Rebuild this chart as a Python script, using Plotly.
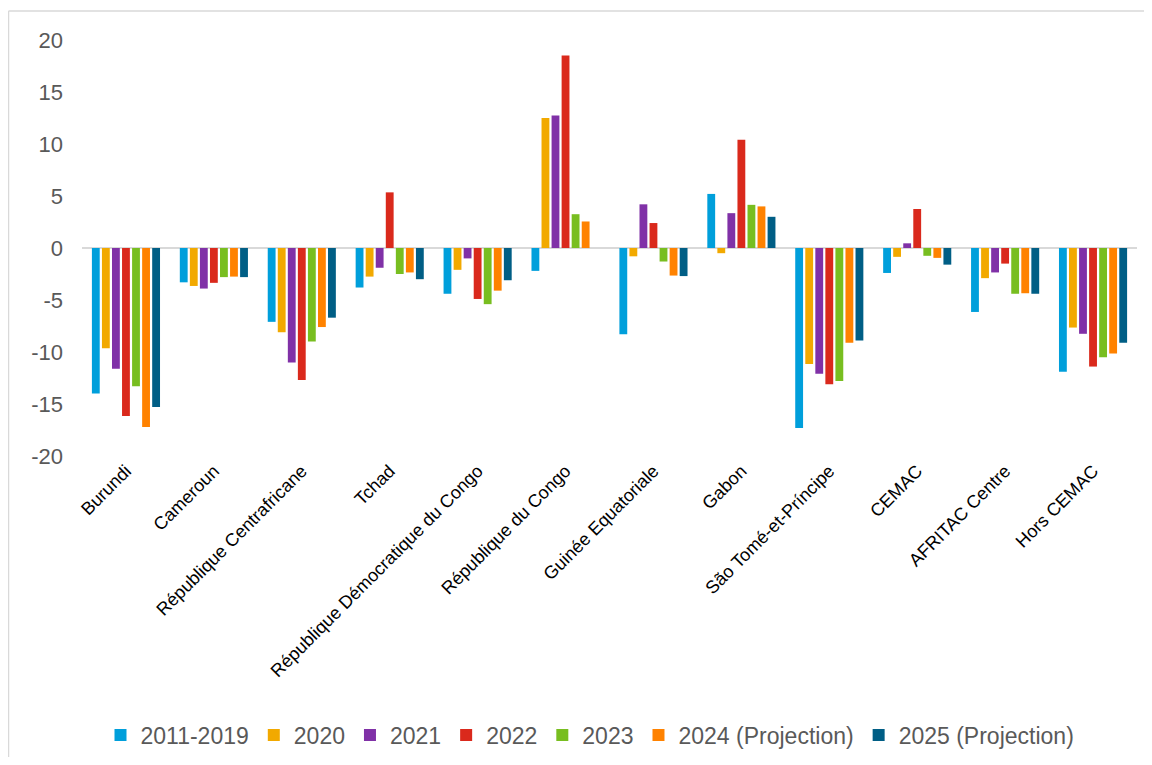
import plotly.graph_objects as go

categories = ["Burundi", "Cameroun", "République Centrafricane", "Tchad",
              "République Démocratique du Congo", "République du Congo",
              "Guinée Equatoriale", "Gabon", "São Tomé-et-Príncipe", "CEMAC",
              "AFRITAC Centre", "Hors CEMAC"]

series_names = ["2011-2019", "2020", "2021", "2022", "2023",
                "2024 (Projection)", "2025 (Projection)"]

v_2011_2019 = [-14.0, -3.3, -7.1, -3.8, -4.4, -2.2, -8.3, 5.2, -17.3, -2.4, -6.15, -11.9]
v_2020 = [-9.65, -3.65, -8.1, -2.75, -2.1, 12.5, -0.8, -0.5, -11.15, -0.85, -2.9, -7.65]
v_2021 = [-11.6, -3.9, -11.0, -1.9, -1.0, 12.75, 4.2, 3.35, -12.1, 0.45, -2.35, -8.25]
v_2022 = [-16.15, -3.35, -12.7, 5.35, -4.9, 18.5, 2.4, 10.4, -13.1, 3.75, -1.5, -11.4]
v_2023 = [-13.3, -2.8, -9.0, -2.5, -5.4, 3.25, -1.3, 4.15, -12.8, -0.75, -4.4, -10.5]
v_2024 = [-17.2, -2.75, -7.6, -2.35, -4.1, 2.55, -2.65, 4.0, -9.1, -0.95, -4.35, -10.15]
v_2025 = [-15.3, -2.8, -6.7, -3.0, -3.1, None, -2.7, 3.0, -8.9, -1.6, -4.4, -9.1]

series_values = [v_2011_2019, v_2020, v_2021, v_2022, v_2023, v_2024, v_2025]
colors = ["#009FDB", "#F2A900", "#8031A7", "#DA291C", "#78BE20", "#FF8200", "#005E85"]

y_ticks = [-20, -15, -10, -5, 0, 5, 10, 15, 20]
y_tick_labels = ["-20", "-15", "-10", "-5", "0", "5", "10", "15", "20"]

FONT = "Arial, Liberation Sans, sans-serif"

fig = go.Figure()
for name, vals, col in zip(series_names, series_values, colors):
    fig.add_trace(go.Bar(x=categories, y=vals, name=name,
                         marker=dict(color=col, line=dict(width=0))))

# page has an 8px body margin; geometry below is in figure pixels
OFF = 8
W, H = 1152 - 2 * OFF, 765 - 2 * OFF
L = 82 - OFF
T = 40 - OFF
R = W - (1137 - OFF)
B = H - (456 - OFF)
pw = W - L - R
ph = H - T - B

fx = (0.5 - L) / pw
fy = 1 + (T - 3) / ph
fx_end = 1 + (R + 10) / pw
fy_end = -(B + 10) / ph

fig.update_layout(
    width=W, height=H,
    margin=dict(l=L, r=R, t=T, b=B, autoexpand=False),
    paper_bgcolor="white", plot_bgcolor="white",
    barmode="group", bargap=0.2, bargroupgap=0.22,
    font=dict(family=FONT, color="#595959"),
    showlegend=True,
    legend=dict(orientation="h", x=(590 - 82) / pw, xanchor="center",
                y=((456 - OFF) - (735 - OFF)) / ph,
                yanchor="middle", font=dict(size=23, color="#595959"),
                itemwidth=30, tracegroupgap=0, bgcolor="rgba(0,0,0,0)"),
    xaxis=dict(tickangle=-45, tickfont=dict(size=18, color="#000000", family=FONT),
               showline=False, showgrid=False, zeroline=False, ticks=""),
    yaxis=dict(range=[-20, 20], tickvals=y_ticks, ticktext=y_tick_labels,
               tickfont=dict(size=22, color="#595959"),
               showgrid=False, zeroline=True, zerolinecolor="#D9D9D9", zerolinewidth=2,
               showline=False, ticks="", ticklabelstandoff=18),
    shapes=[
        dict(type="line", xref="paper", yref="paper", x0=fx, x1=fx, y0=fy_end, y1=fy,
             line=dict(color="#D9D9D9", width=1.5)),
        dict(type="line", xref="paper", yref="paper", x0=fx, x1=fx_end, y0=fy, y1=fy,
             line=dict(color="#D9D9D9", width=1.5)),
    ],
)

fig.write_html("out.html")
